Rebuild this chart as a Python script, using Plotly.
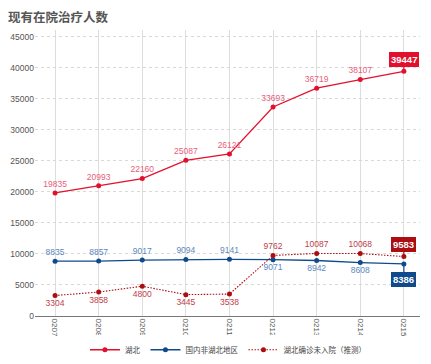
import plotly.graph_objects as go

dates = ["0207", "0208", "0209", "0210", "0211", "0212", "0213", "0214", "0215"]
hubei = [19835, 20993, 22160, 25087, 26121, 33693, 36719, 38107, 39447]
non_hubei = [8835, 8857, 9017, 9094, 9141, 9071, 8942, 8608, 8386]
hubei_not_admitted = [3304, 3858, 4800, 3445, 3538, 9762, 10087, 10068, 9583]

names = ["湖北", "国内非湖北地区", "湖北确诊未入院（推测）"]
RED = "#e3102d"
BLUE = "#0f4a8c"
DRED = "#ab0d10"
RED_L = "#e8607a"
BLUE_L = "#5a88c2"
DRED_L = "#c0404a"

FONT = "Noto Sans CJK SC, Noto Sans, sans-serif"
LFONT = "Liberation Sans, Arial, sans-serif"

fig = go.Figure()

def pos_list(n, first, later):
    return [first if i < 5 else later for i in range(n)]

fig.add_trace(go.Scatter(
    x=dates, y=hubei, name=names[0], mode="lines+markers+text",
    line=dict(color=RED, width=1.3), marker=dict(color=RED, size=5),
    text=[str(v) for v in hubei[:-1]] + [""], textposition="top center",
    textfont=dict(color=RED_L, size=8.5, family=LFONT), cliponaxis=False,
))
fig.add_trace(go.Scatter(
    x=dates, y=non_hubei, name=names[1], mode="lines+markers+text",
    line=dict(color=BLUE, width=1.3), marker=dict(color=BLUE, size=5),
    text=[str(v) for v in non_hubei[:-1]] + [""],
    textposition=pos_list(9, "top center", "bottom center"),
    textfont=dict(color=BLUE_L, size=8.5, family=LFONT), cliponaxis=False,
))
fig.add_trace(go.Scatter(
    x=dates, y=hubei_not_admitted, name=names[2], mode="lines+markers+text",
    line=dict(color=DRED, width=1.1, dash="1.5px,1.5px"), marker=dict(color=DRED, size=5),
    text=[str(v) for v in hubei_not_admitted[:-1]] + [""],
    textposition=pos_list(9, "bottom center", "top center"),
    textfont=dict(color=DRED_L, size=8.5, family=LFONT), cliponaxis=False,
))

last = len(dates) - 1
for series, color, ay in [(hubei, RED, -12), (hubei_not_admitted, DRED, -12), (non_hubei, BLUE, 16)]:
    fig.add_annotation(
        x=last, y=series[-1], xref="x", yref="y", text="<b>%d</b>" % series[-1],
        showarrow=True, arrowhead=0, arrowwidth=1.2, arrowcolor=color,
        ax=0, ay=ay, bgcolor=color, bordercolor=color, borderpad=1,
        font=dict(color="white", size=9.5, family=LFONT),
    )

fig.update_layout(
    width=423, height=356,
    margin=dict(l=27, r=11, t=22, b=48),
    paper_bgcolor="white", plot_bgcolor="white",
    title=dict(text="<b>现有在院治疗人数</b>", x=0.0, xanchor="left", y=0.985, yanchor="top",
               font=dict(size=12.5, color="#555555", family=FONT)),
    showlegend=True,
    legend=dict(orientation="h", x=0.52, xanchor="center", xref="container",
                y=0.04, yanchor="middle", yref="container",
                font=dict(size=7.5, color="#444444", family=FONT),
                itemwidth=30, tracegroupgap=0),
    font=dict(family=FONT),
)
fig.update_xaxes(
    type="category", range=[-0.46, 8.37], tickangle=90, automargin=False,
    showgrid=True, gridcolor="#dddddd", gridwidth=1,
    showline=True, linecolor="#777777", linewidth=1,
    ticks="", tickfont=dict(size=8, color="#555555", family=LFONT),
)
fig.update_yaxes(
    range=[0, 46100], tickvals=list(range(0, 45001, 5000)), tickformat="d",
    automargin=False,
    showgrid=True, gridcolor="#d8d8d8", griddash="dot", gridwidth=1,
    zeroline=False, tickfont=dict(size=8.5, color="#555555", family=LFONT),
    ticks="",
)

fig.write_html("out.html")
